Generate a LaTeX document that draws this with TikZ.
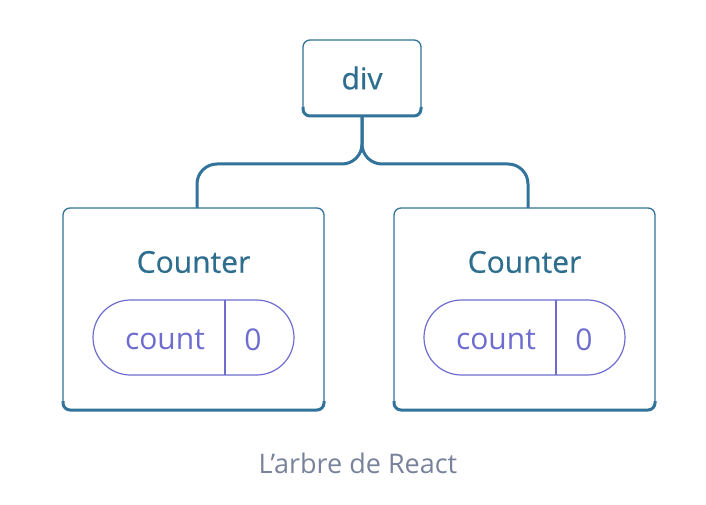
\documentclass[tikz,border=0pt]{standalone}
\usepackage{fontspec}
\setmainfont{Open Sans}
\newfontfamily\mediumfont[FakeBold=0.6]{Open Sans}
\usetikzlibrary{calc}
\definecolor{treeblue}{HTML}{31739A}
\definecolor{treetext}{HTML}{2D6E8E}
\definecolor{statepurple}{HTML}{6E6DCF}
\definecolor{captiongray}{HTML}{78829B}
\begin{document}
\begin{tikzpicture}[x=1pt,y=1pt,
  box/.style={draw=treeblue,line width=1.3pt,rounded corners=7pt,outer sep=0pt,fill=white},
  wire/.style={draw=treeblue,line width=3pt,rounded corners=20pt},
  pill/.style={draw=statepurple,line width=1.2pt,rounded corners=37.5pt,minimum width=201pt,minimum height=75pt,outer sep=0pt},
  label/.style={text=treetext,font=\mediumfont\fontsize{30}{36}\selectfont},
  statetext/.style={text=statepurple,font=\fontsize{30}{36}\selectfont}]
  \useasboundingbox (0,0) rectangle (706,-505);
  % root node
  \node[box,minimum width=118pt,minimum height=76pt] (div) at (362,-78) {};
  \node[label] (divlabel) at (div) {div};
  % child components
  \node[box,minimum width=261pt,minimum height=202pt] (cntA) at (193.5,-309) {};
  \node[box,minimum width=261pt,minimum height=202pt] (cntB) at (524.5,-309) {};
  % thicker bottom edges
  \foreach \b in {div,cntA,cntB}
    \draw[treeblue,line width=3pt,rounded corners=7pt]
      ([yshift=9pt]\b.south west) -- (\b.south west) -- (\b.south east) -- ([yshift=9pt]\b.south east);
  % branches
  \draw[wire] (div.south) -- ++(0,-48) -| ([xshift=3.5pt]cntA.north);
  \draw[wire] (div.south) -- ++(0,-48) -| ([xshift=3.5pt]cntB.north);
  % labels and state
  \foreach \c in {A,B} {
    \node[label] (title\c) at ($(cnt\c.north)+(0,-54)$) {Counter};
    \node[pill] (pill\c) at ($(cnt\c.center)+(0,-28.5)$) {};
    \draw[statepurple,line width=1.2pt] ($(pill\c.north west)+(132,0)$) -- ($(pill\c.south west)+(132,0)$);
    \node[statetext] (key\c) at ($(pill\c.west)+(72,-2)$) {count};
    \node[statetext] (val\c) at ($(pill\c.west)+(160,-2)$) {0};
  }
  % caption
  \node[text=captiongray,font=\fontsize{27}{32}\selectfont] (caption) at (358,-463) {L’arbre de React};
\end{tikzpicture}
\end{document}
